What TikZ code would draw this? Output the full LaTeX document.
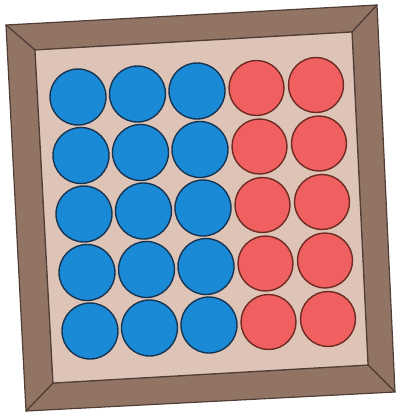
\documentclass[tikz,border=0pt]{standalone}
\begin{document}
\begin{tikzpicture}[x=1pt,y=-1pt,
  framepanel/.style={fill=framebrown,draw=frameline,line width=1.2pt,line join=round},
  bluedisc/.style={circle,minimum size=56pt,inner sep=0pt,fill=discblue,draw=blueline,line width=1.4pt},
  reddisc/.style={circle,minimum size=55pt,inner sep=0pt,fill=discred,draw=redline,line width=1.4pt}]
\definecolor{framebrown}{RGB}{146,116,101}
\definecolor{frameline}{RGB}{80,62,54}
\definecolor{trayfill}{RGB}{221,196,182}
\definecolor{discblue}{RGB}{27,138,214}
\definecolor{blueline}{RGB}{22,52,82}
\definecolor{discred}{RGB}{240,96,96}
\definecolor{redline}{RGB}{110,42,34}
\useasboundingbox (0,0) rectangle (400,413);
% corners
\coordinate (OTL) at (6,25);
\coordinate (OTR) at (377,5);
\coordinate (OBR) at (395,392);
\coordinate (OBL) at (26,411);
\coordinate (ITL) at (35,50);
\coordinate (ITR) at (352,32);
\coordinate (IBR) at (368,365);
\coordinate (IBL) at (53,383);
% frame panels
\draw[framepanel] (OTL) -- (OTR) -- (ITR) -- (ITL) -- cycle;
\draw[framepanel] (OTR) -- (OBR) -- (IBR) -- (ITR) -- cycle;
\draw[framepanel] (OBR) -- (OBL) -- (IBL) -- (IBR) -- cycle;
\draw[framepanel] (OBL) -- (OTL) -- (ITL) -- (IBL) -- cycle;
% tray floor
\draw[fill=trayfill,draw=frameline,line width=1.2pt] (ITL) -- (ITR) -- (IBR) -- (IBL) -- cycle;
% discs
\foreach \r in {0,...,4}{
  \foreach \c in {0,1,2}{
    \node[bluedisc] (d\r\c) at ({78+59.5*\c+3*\r},{97-3*\c+58.5*\r}) {};
  }
  \foreach \c in {3,4}{
    \node[reddisc] (d\r\c) at ({78+59.5*\c+3*\r},{97-3*\c+58.5*\r}) {};
  }
}
\end{tikzpicture}
\end{document}
